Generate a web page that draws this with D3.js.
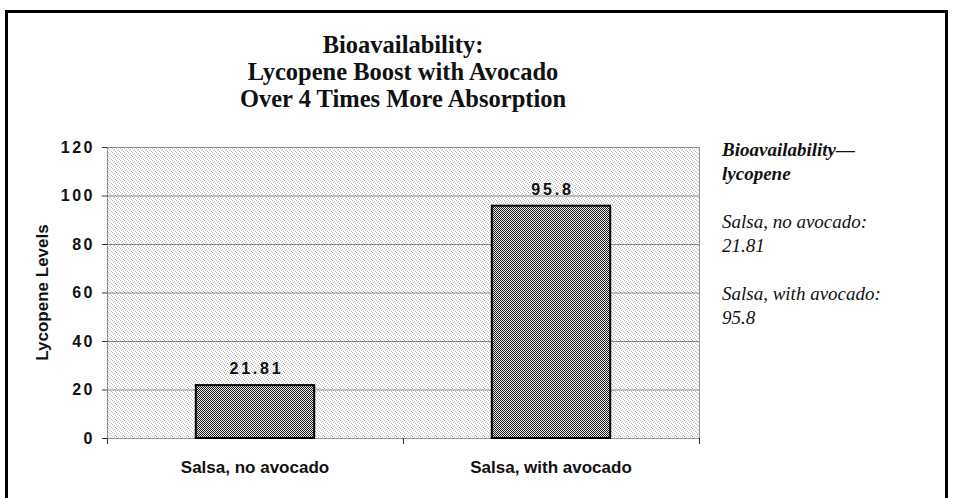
<!DOCTYPE html>
<html>
<head>
<meta charset="utf-8">
<script src="https://cdn.jsdelivr.net/npm/d3@7"></script>
<style>
  body { margin: 0; background: #fff; }
  .chart { width: 953px; height: 498px; }
</style>
</head>
<body>
<div class="chart"></div>
<script>
// data
const categories = ['Salsa, no avocado', 'Salsa, with avocado'];
const values = [21.81, 95.8];
const valueLabels = ['21.81', '95.8'];
const yTicks = [0, 20, 40, 60, 80, 100, 120];
const titleLines = ['Bioavailability:', 'Lycopene Boost with Avocado', 'Over 4 Times More Absorption'];
const noteLines = ['Bioavailability\u2014', 'lycopene', '', 'Salsa, no avocado:', '21.81', '', 'Salsa, with avocado:', '95.8'];

const width = d3.select('.chart').node().clientWidth;
const height = d3.select('.chart').node().clientHeight;

const svg = d3.select('.chart')
  .append('svg')
  .attr('width', width)
  .attr('height', height);

// dither patterns like the scanned original
const defs = svg.append('defs');
const bgPat = defs.append('pattern')
  .attr('id', 'dots')
  .attr('width', 4).attr('height', 4)
  .attr('patternUnits', 'userSpaceOnUse');
bgPat.append('rect').attr('width', 4).attr('height', 4).attr('fill', '#fff');
[[0, 0], [2, 1], [1, 2], [3, 3]].forEach(p => {
  bgPat.append('rect').attr('x', p[0]).attr('y', p[1]).attr('width', 1).attr('height', 1).attr('fill', '#bcbcbc');
});
const barPat = defs.append('pattern')
  .attr('id', 'checker')
  .attr('width', 2).attr('height', 2)
  .attr('patternUnits', 'userSpaceOnUse');
barPat.append('rect').attr('width', 2).attr('height', 2).attr('fill', '#e6e6e6');
barPat.append('rect').attr('x', 0).attr('y', 0).attr('width', 1).attr('height', 1).attr('fill', '#222');
barPat.append('rect').attr('x', 1).attr('y', 1).attr('width', 1).attr('height', 1).attr('fill', '#222');

// outer frame (bottom edge runs off the page)
svg.append('rect')
  .attr('x', 6.5).attr('y', 11.5)
  .attr('width', 940).attr('height', 600)
  .attr('fill', 'none')
  .attr('stroke', '#000')
  .attr('stroke-width', 3);

const x = d3.scaleBand()
  .domain(categories)
  .range([107, 699])
  .paddingInner(0.6)
  .paddingOuter(0.3);

const y = d3.scaleLinear()
  .domain([0, 120])
  .range([438, 147]);

// plot background
svg.append('rect')
  .attr('x', x.range()[0])
  .attr('y', y(120))
  .attr('width', x.range()[1] - x.range()[0])
  .attr('height', y(0) - y(120))
  .attr('fill', 'url(#dots)');

// gridlines
svg.append('g')
  .selectAll('line')
  .data(yTicks.filter(d => d > 0 && d < 120))
  .join('line')
  .attr('x1', x.range()[0]).attr('x2', x.range()[1])
  .attr('y1', d => y(d) + 0.5).attr('y2', d => y(d) + 0.5)
  .attr('stroke', '#8a8a8a')
  .attr('stroke-width', 1);

// plot border, dotted
svg.append('rect')
  .attr('x', x.range()[0] + 0.5)
  .attr('y', y(120) + 0.5)
  .attr('width', x.range()[1] - x.range()[0])
  .attr('height', y(0) - y(120))
  .attr('fill', 'none')
  .attr('stroke', '#333')
  .attr('stroke-dasharray', '1,1');

// bars
svg.append('g')
  .selectAll('rect')
  .data(values)
  .join('rect')
  .attr('x', (d, i) => x(categories[i]))
  .attr('y', d => y(d))
  .attr('width', x.bandwidth())
  .attr('height', d => y(0) - y(d))
  .attr('fill', 'url(#checker)')
  .attr('stroke', '#000')
  .attr('stroke-width', 2);

// value labels
svg.append('g')
  .selectAll('text')
  .data(values)
  .join('text')
  .attr('x', (d, i) => x(categories[i]) + x.bandwidth() / 2 + 1.5)
  .attr('y', d => y(d) - 11)
  .attr('text-anchor', 'middle')
  .style('font-family', 'Arial, "Liberation Sans", sans-serif')
  .style('font-weight', 'bold')
  .style('font-size', '16px')
  .style('letter-spacing', '2.8px')
  .attr('fill', '#111')
  .text((d, i) => valueLabels[i]);

// y axis
const yAxis = svg.append('g')
  .attr('transform', `translate(${x.range()[0]},0)`)
  .call(d3.axisLeft(y).tickValues(yTicks).tickSize(5).tickPadding(7));
yAxis.select('.domain').remove();
yAxis.selectAll('.tick line').attr('stroke', '#333');
yAxis.selectAll('.tick text')
  .style('font-family', 'Arial, "Liberation Sans", sans-serif')
  .style('font-weight', 'bold')
  .style('font-size', '16px')
  .style('letter-spacing', '2.5px')
  .attr('fill', '#111');

// x axis: labels at band centres, ticks at category edges
const xAxis = svg.append('g')
  .attr('transform', `translate(0,${y(0)})`)
  .call(d3.axisBottom(x).tickSize(0).tickPadding(23));
xAxis.select('.domain').remove();
xAxis.selectAll('.tick text')
  .style('font-family', 'Arial, "Liberation Sans", sans-serif')
  .style('font-weight', 'bold')
  .style('font-size', '17px')
  .attr('fill', '#111');

const edges = d3.range(categories.length + 1).map(i => x.range()[0] + i * x.step());
svg.append('g')
  .selectAll('line')
  .data(edges)
  .join('line')
  .attr('x1', d => Math.round(d) + 0.5).attr('x2', d => Math.round(d) + 0.5)
  .attr('y1', y(0)).attr('y2', y(0) + 6)
  .attr('stroke', '#333');

// y axis title
svg.append('text')
  .attr('transform', `translate(48,${(y(0) + y(120)) / 2}) rotate(-90)`)
  .attr('text-anchor', 'middle')
  .style('font-family', 'Arial, "Liberation Sans", sans-serif')
  .style('font-weight', 'bold')
  .style('font-size', '17px')
  .attr('fill', '#111')
  .text('Lycopene Levels');

// title
svg.append('g')
  .selectAll('text')
  .data(titleLines)
  .join('text')
  .attr('x', (x.range()[0] + x.range()[1]) / 2)
  .attr('y', (d, i) => 53 + i * 27)
  .attr('text-anchor', 'middle')
  .style('font-family', '"Liberation Serif", "Times New Roman", serif')
  .style('font-weight', 'bold')
  .style('font-size', '24.5px')
  .attr('fill', '#111')
  .text(d => d);

// side note
svg.append('g')
  .selectAll('text')
  .data(noteLines)
  .join('text')
  .attr('x', 722)
  .attr('y', (d, i) => 156 + i * 24)
  .style('font-family', '"Liberation Serif", "Times New Roman", serif')
  .style('font-style', 'italic')
  .style('font-weight', (d, i) => i < 2 ? 'bold' : 'normal')
  .style('font-size', '19px')
  .attr('fill', '#111')
  .text(d => d);
</script>
</body>
</html>
